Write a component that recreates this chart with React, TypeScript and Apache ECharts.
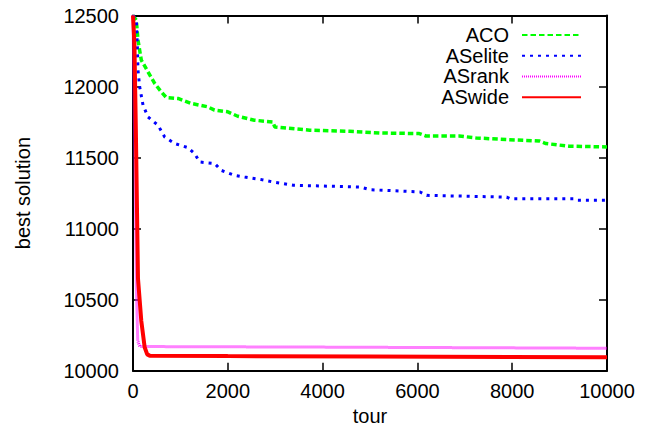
import React, { useEffect, useRef } from "react";
import * as echarts from "echarts";

const FONT = "'Liberation Sans', Arial, Helvetica, sans-serif";

const xTicks = [0, 2000, 4000, 6000, 8000, 10000];
const yTicks = [10000, 10500, 11000, 11500, 12000, 12500];

const seriesNames = ["ACO", "ASelite", "ASrank", "ASwide"];

const acoX = [0, 70, 105, 175, 316, 457, 596, 701, 950, 1230, 1580, 1720, 2000, 2210, 2560, 2770, 2950, 2990, 3730, 4570, 5200, 6040, 6180, 6880, 7240, 7870, 8570, 8710, 9200, 10000];
const acoY = [12500, 12468, 12327, 12186, 12104, 12022, 11963, 11923, 11916, 11881, 11857, 11834, 11822, 11791, 11763, 11756, 11751, 11716, 11693, 11685, 11673, 11669, 11652, 11652, 11638, 11627, 11617, 11599, 11580, 11575];

const eliteX = [0, 70, 90, 105, 141, 211, 316, 527, 668, 880, 1160, 1300, 1407, 1723, 1863, 2145, 2356, 2707, 2955, 3382, 4789, 5000, 6055, 6196, 6900, 7884, 7954, 9290, 9360, 10000];
const eliteY = [12500, 12468, 12304, 12116, 11998, 11870, 11786, 11728, 11645, 11599, 11570, 11528, 11469, 11458, 11410, 11375, 11363, 11345, 11328, 11305, 11293, 11274, 11258, 11234, 11229, 11222, 11211, 11211, 11199, 11199];

const rankX = [0, 40, 70, 100, 130, 150, 4000, 8550, 10000];
const rankY = [12500, 11500, 10600, 10210, 10180, 10170, 10166, 10160, 10158];

const wideX = [0, 30, 60, 105, 175, 246, 300, 352, 2000, 5000, 10000];
const wideY = [12500, 12300, 11700, 10650, 10350, 10165, 10115, 10106, 10103, 10100, 10094];

const colors = ["#00ff00", "#0000ff", "#ff00ff", "#ff0000"];

function pairs(xs: number[], ys: number[]) {
  return xs.map((x, i) => [x, ys[i]]);
}

export default function App() {
  const ref = useRef<HTMLDivElement>(null);
  useEffect(() => {
    if (!ref.current) return;
    const chart = echarts.init(ref.current, undefined, { renderer: "svg" });
    const axisLine = { show: true, onZero: false, lineStyle: { color: "#000", width: 2 } };
    const axisTick = { show: true, inside: true, length: 8, lineStyle: { color: "#000", width: 1.5 } };
    const label = { fontSize: 20, color: "#000", fontFamily: FONT };
    const fmt = (v: number) => String(v);
    const xBase = { type: "value", min: xTicks[0], max: xTicks[xTicks.length - 1], interval: xTicks[1] - xTicks[0], splitLine: { show: false } };
    const yBase = { type: "value", min: yTicks[0], max: yTicks[yTicks.length - 1], interval: yTicks[1] - yTicks[0], splitLine: { show: false } };
    const data = [pairs(acoX, acoY), pairs(eliteX, eliteY), pairs(rankX, rankY), pairs(wideX, wideY)];
    const styles = [
      { width: 3.5, type: [5.5, 3] },
      { width: 3, type: [3, 5] },
      { width: 3, type: [1, 1] },
      { width: 4, type: "solid" },
    ];
    chart.setOption({
      animation: false,
      grid: { left: 133, right: 45, top: 15.5, bottom: 61.3, containLabel: false, outerBoundsMode: "none" },
      xAxis: [
        {
          ...xBase,
          position: "bottom",
          axisLine,
          axisTick,
          axisLabel: { ...label, margin: 10, formatter: fmt },
          name: "tour",
          nameLocation: "middle",
          nameGap: 29,
          nameTextStyle: { ...label },
        },
        { ...xBase, position: "top", axisLine, axisTick, axisLabel: { show: false } },
      ],
      yAxis: [
        {
          ...yBase,
          position: "left",
          axisLine,
          axisTick,
          axisLabel: { ...label, margin: 14, formatter: fmt },
          name: "best solution",
          nameLocation: "middle",
          nameGap: 100,
          nameTextStyle: { ...label },
        },
        { ...yBase, position: "right", axisLine, axisTick, axisLabel: { show: false } },
      ],
      legend: {
        data: seriesNames,
        orient: "vertical",
        right: 70,
        top: 24.7,
        align: "right",
        padding: 0,
        itemWidth: 59,
        itemHeight: 14,
        itemGap: 0,
        selectedMode: false,
        itemStyle: { opacity: 0 },
        textStyle: { ...label, lineHeight: 20.7, padding: [0, 8, 0, 0] },
      },
      series: seriesNames.map((name, i) => ({
        name,
        type: "line",
        xAxisIndex: 0,
        yAxisIndex: 0,
        data: data[i],
        symbol: "none",
        showSymbol: false,
        clip: true,
        color: colors[i],
        itemStyle: { color: colors[i] },
        lineStyle: { color: colors[i], width: styles[i].width, type: styles[i].type, cap: "butt" },
        emphasis: { disabled: true },
      })),
    });
    return () => chart.dispose();
  }, []);
  return (
    <div
      ref={ref}
      style={{ position: "absolute", left: 0, top: 0, width: 652, height: 432, background: "#fff" }}
    />
  );
}
